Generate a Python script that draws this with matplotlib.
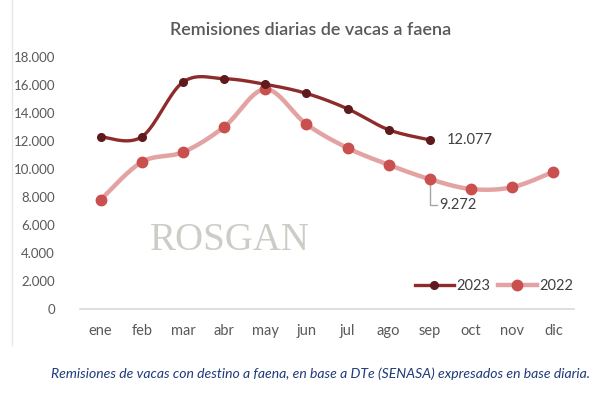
import numpy as np
import matplotlib
matplotlib.use("Agg")
import matplotlib.pyplot as plt
from matplotlib.lines import Line2D

# datos (lectura aproximada del grafico)
meses = ["ene", "feb", "mar", "abr", "may", "jun", "jul", "ago", "sep", "oct", "nov", "dic"]
v2023 = [12300, 12300, 16200, 16450, 16050, 15400, 14300, 12800, 12077]
v2022 = [7800, 10500, 11200, 13000, 15700, 13200, 11500, 10300, 9272, 8570, 8700, 9800]
yticks = [0, 2000, 4000, 6000, 8000, 10000, 12000, 14000, 16000, 18000]


def suavizar(x, y, n=20):
    # curva suavizada tipo Excel (Catmull-Rom) solo para el trazo
    x = np.asarray(x, float)
    y = np.asarray(y, float)
    px = np.r_[x[0], x, x[-1]]
    py = np.r_[y[0], y, y[-1]]
    xs, ys = [], []
    t = np.linspace(0, 1, n)
    for i in range(1, len(x)):
        p0 = np.array([px[i - 1], py[i - 1]])
        p1 = np.array([px[i], py[i]])
        p2 = np.array([px[i + 1], py[i + 1]])
        p3 = np.array([px[i + 2], py[i + 2]])
        c1 = p1 + (p2 - p0) / 6
        c2 = p2 - (p3 - p1) / 6
        b = ((1 - t) ** 3)[:, None] * p1 + (3 * (1 - t) ** 2 * t)[:, None] * c1 \
            + (3 * (1 - t) * t ** 2)[:, None] * c2 + (t ** 3)[:, None] * p2
        xs.extend(b[:, 0])
        ys.extend(b[:, 1])
    return np.array(xs), np.array(ys)


c23_line, c23_mk = "#8e2b2b", "#5e1a1c"
c22_line, c22_mk = "#e3a3a3", "#c9504f"
gris = "#595959"

fig = plt.figure(figsize=(6.04, 3.99), dpi=100)
ax = fig.add_axes([80 / 604, 1 - 309 / 399, 494 / 604, 252 / 399])

x23 = np.arange(len(v2023))
x22 = np.arange(len(v2022))

sx, sy = suavizar(x22, v2022)
ax.plot(sx, sy, color=c22_line, lw=3.2, solid_capstyle="round", zorder=2)
ax.plot(x22, v2022, "o", color=c22_mk, ms=7.5, zorder=3)

sx, sy = suavizar(x23, v2023)
ax.plot(sx, sy, color=c23_line, lw=2.4, solid_capstyle="round", zorder=4)
ax.plot(x23, v2023, "o", color=c23_mk, ms=5.5, zorder=5)

ax.set_xlim(-0.5, 11.5)
ax.set_ylim(0, 18000)
ax.set_xticks(x22)
ax.set_xticklabels(meses)
ax.set_yticks(yticks)
ax.set_yticklabels([f"{v:,}".replace(",", ".") for v in yticks])
ax.tick_params(length=0, colors=gris)
ax.tick_params(axis="x", pad=11, labelsize=10.5)
ax.tick_params(axis="y", pad=18, labelsize=9.5)
for lab in ax.get_xticklabels() + ax.get_yticklabels():
    lab.set_fontfamily("Lato")
for s in ["top", "right", "left"]:
    ax.spines[s].set_visible(False)
ax.spines["bottom"].set_color("#d9d9d9")
ax.spines["bottom"].set_linewidth(1.2)

# etiquetas de datos
ax.text(8 + 0.42, v2023[-1], "12.077", fontsize=10.5, color="#404040",
        family="Lato", va="center", ha="left")
ax.plot([8, 8, 8.18], [v2022[8], 7450, 7450], color="#a6a6a6", lw=1, zorder=1)
ax.text(8.22, 7450, "9.272", fontsize=10.5, color="#404040", family="Lato",
        va="center", ha="left")

# marca de agua
ax.text(3.15, 4900, "ROSGAN", fontsize=28, color="#cdcdc7", family="Liberation Serif",
        ha="center", va="center", zorder=0)

# leyenda
h23 = Line2D([], [], color=c23_line, lw=2.4, marker="o", ms=5.5, mfc=c23_mk, mec=c23_mk)
h22 = Line2D([], [], color=c22_line, lw=3.2, marker="o", ms=7.5, mfc=c22_mk, mec=c22_mk)
leg = ax.legend([h23, h22], ["2023", "2022"], ncol=2, loc="lower right",
                bbox_to_anchor=(1.025, 0.012), frameon=False, handlelength=2.7,
                columnspacing=0.5, handletextpad=0.15,
                prop={"family": "Lato", "size": 10.5})
for t in leg.get_texts():
    t.set_color("#404040")

fig.text(311 / 604, 1 - 30 / 399, "Remisiones diarias de vacas a faena", ha="center",
         va="center", fontsize=13, color=gris, family="Lato", fontweight="semibold")

fig.text(590 / 604, 1 - 374 / 399,
         "Remisiones de vacas con destino a faena, en base a DTe (SENASA) expresados en base diaria.",
         ha="right", va="center", fontsize=10.1, color="#1f3a78", family="Lato", style="italic")

# borde izquierdo del grafico
fig.add_artist(Line2D([12 / 604, 12 / 604], [1 - 345 / 399, 1.0], transform=fig.transFigure,
                      color="#e6e6e6", lw=1))

fig.savefig("out.png", dpi=100)
